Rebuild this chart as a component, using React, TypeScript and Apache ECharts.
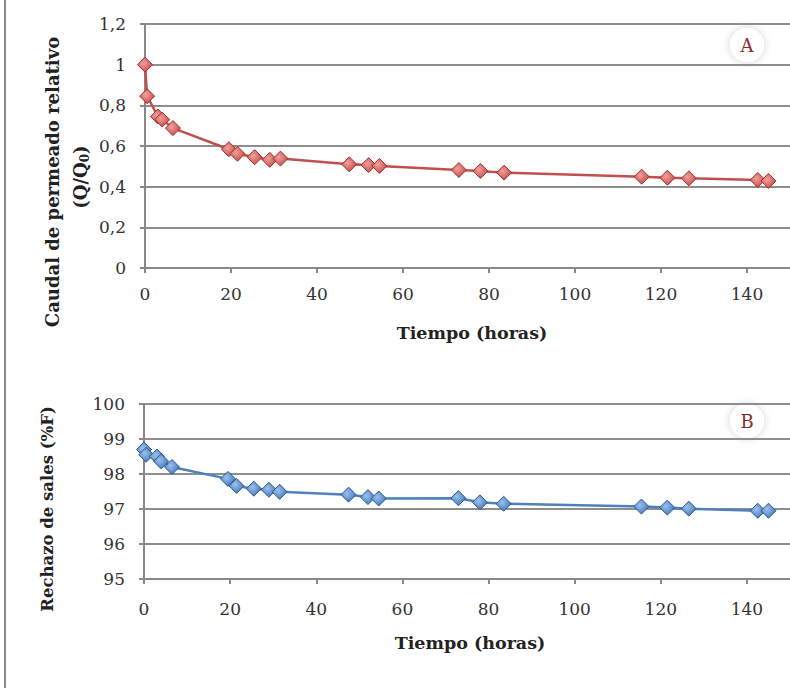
import React, { useEffect, useRef } from "react";
import * as echarts from "echarts";

// ---- Data ----
const timeA = [0, 0.5, 3, 4, 6.5, 19.5, 21.5, 25.5, 29, 31.5, 47.5, 52, 54.5, 73, 78, 83.5, 115.5, 121.5, 126.5, 142.5, 145];
const flowA = [1.0, 0.845, 0.745, 0.73, 0.688, 0.584, 0.562, 0.545, 0.532, 0.538, 0.51, 0.506, 0.502, 0.482, 0.477, 0.469, 0.449, 0.444, 0.441, 0.433, 0.428];

const timeB = [0, 0.5, 3, 4, 6.5, 19.5, 21.5, 25.5, 29, 31.5, 47.5, 52, 54.5, 73, 78, 83.5, 115.5, 121.5, 126.5, 142.5, 145];
const rejB = [98.7, 98.55, 98.5, 98.36, 98.2, 97.86, 97.66, 97.58, 97.55, 97.49, 97.41, 97.34, 97.3, 97.31, 97.19, 97.15, 97.07, 97.04, 97.01, 96.95, 96.95];

const xTitle = "Tiempo (horas)";
const yTitleA1 = "Caudal de permeado relativo";
const yTitleA2 = "(Q/Q{s|0})";
const yTitleB = "Rechazo de sales (%F)";

const labelFont = "'DejaVu Serif', serif";
const gridColor = "#8e8e8e";
const labelColor = "#333";

function axisCommon(extra: any) {
  return {
    axisLine: { show: true, lineStyle: { color: "#888", width: 2 } },
    axisTick: { show: true, length: 5, inside: false, lineStyle: { color: "#888", width: 2 } },
    ...extra,
  };
}

export default function App() {
  const ref = useRef<HTMLDivElement>(null);
  useEffect(() => {
    if (!ref.current) return;
    const chart = echarts.init(ref.current, undefined, { renderer: "svg" });
    const redFill = new echarts.graphic.RadialGradient(0.4, 0.4, 0.7, [
      { offset: 0, color: "#f2a09c" },
      { offset: 1, color: "#c0443f" },
    ]);
    const blueFill = new echarts.graphic.RadialGradient(0.4, 0.4, 0.7, [
      { offset: 0, color: "#9cc2ec" },
      { offset: 1, color: "#3c6fb3" },
    ]);
    const dataA = timeA.map((t, i) => [t, flowA[i]]);
    const dataB = timeB.map((t, i) => [t, rejB[i]]);
    const tickLabel = { fontFamily: labelFont, fontSize: 17, color: labelColor };
    chart.setOption({
      animation: false,
      backgroundColor: "#fff",
      grid: [
        { left: 145, top: 24, width: 652, height: 244 },
        { left: 144, top: 404, width: 650, height: 175 },
      ],
      xAxis: [
        axisCommon({
          type: "value", gridIndex: 0, min: 0, max: 150, interval: 20,
          splitLine: { show: false },
          axisLabel: { ...tickLabel, margin: 17, showMaxLabel: false },
        }),
        axisCommon({
          type: "value", gridIndex: 1, min: 0, max: 150, interval: 20,
          splitLine: { show: false },
          axisLabel: { ...tickLabel, margin: 21, showMaxLabel: false },
        }),
      ],
      yAxis: [
        axisCommon({
          type: "value", gridIndex: 0, min: 0, max: 1.2, interval: 0.2,
          splitLine: { show: true, lineStyle: { color: gridColor, width: 2 } },
          axisLabel: {
            ...tickLabel, margin: 19,
            formatter: (v: number) => String(Math.round(v * 10) / 10).replace(".", ","),
          },
        }),
        axisCommon({
          type: "value", gridIndex: 1, min: 95, max: 100, interval: 1,
          splitLine: { show: true, lineStyle: { color: gridColor, width: 2 } },
          axisLabel: { ...tickLabel, margin: 19 },
        }),
      ],
      series: [
        {
          type: "line", xAxisIndex: 0, yAxisIndex: 0, data: dataA,
          symbol: "diamond", symbolSize: 15,
          lineStyle: { color: "#c0504d", width: 2.5 },
          itemStyle: { color: redFill, borderColor: "#a0302c", borderWidth: 1 },
        },
        {
          type: "line", xAxisIndex: 1, yAxisIndex: 1, data: dataB,
          symbol: "diamond", symbolSize: 15,
          lineStyle: { color: "#4f81bd", width: 2.5 },
          itemStyle: { color: blueFill, borderColor: "#2a5a95", borderWidth: 1 },
        },
      ],
      graphic: [
        { type: "rect", shape: { x: 4, y: 0, width: 2, height: 688 }, style: { fill: "#8a8a8a" }, z: 10 },
        {
          type: "text", x: 472, y: 333,
          style: { text: xTitle, font: "bold 17.5px 'DejaVu Serif', serif", fill: "#222", align: "center", verticalAlign: "middle" },
        },
        {
          type: "text", x: 470, y: 643,
          style: { text: xTitle, font: "bold 17.5px 'DejaVu Serif', serif", fill: "#222", align: "center", verticalAlign: "middle" },
        },
        {
          type: "text", x: 52, y: 182, rotation: Math.PI / 2,
          style: { text: yTitleA1, font: "bold 18px 'DejaVu Serif', serif", fill: "#222", align: "center", verticalAlign: "middle" },
        },
        {
          type: "text", x: 80, y: 177, rotation: Math.PI / 2,
          style: {
            text: yTitleA2, font: "bold 18px 'DejaVu Serif', serif", fill: "#222", align: "center", verticalAlign: "middle",
            rich: { s: { font: "bold 12px 'DejaVu Serif', serif", fill: "#222", verticalAlign: "bottom", padding: [9, 0, 0, 0] } },
          },
        },
        {
          type: "text", x: 47, y: 509, rotation: Math.PI / 2,
          style: { text: yTitleB, font: "bold 16.5px 'DejaVu Serif', serif", fill: "#222", align: "center", verticalAlign: "middle" },
        },
        {
          type: "circle", shape: { cx: 747, cy: 45, r: 17 },
          style: { fill: "#fff", shadowBlur: 8, shadowColor: "rgba(0,0,0,0.18)" },
        },
        {
          type: "text", x: 747, y: 45,
          style: { text: "A", font: "18px 'DejaVu Serif', serif", fill: "#8b2a2a", align: "center", verticalAlign: "middle" },
        },
        {
          type: "circle", shape: { cx: 747, cy: 421, r: 17 },
          style: { fill: "#fff", shadowBlur: 8, shadowColor: "rgba(0,0,0,0.18)" },
        },
        {
          type: "text", x: 747, y: 421,
          style: { text: "B", font: "18px 'DejaVu Serif', serif", fill: "#8b2a2a", align: "center", verticalAlign: "middle" },
        },
      ],
    });
    return () => chart.dispose();
  }, []);
  return (
    <div
      ref={ref}
      style={{ position: "fixed", left: 0, top: 0, width: 790, height: 688, overflow: "hidden", background: "#fff" }}
    />
  );
}
